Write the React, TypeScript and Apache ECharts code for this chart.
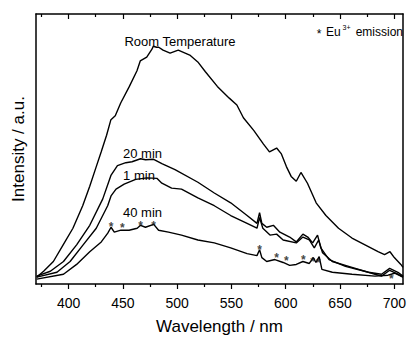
import React, { useEffect, useRef } from "react";
import * as echarts from "echarts";

// Room temperature
const rtWl = [370.7, 377, 386, 395, 404, 413, 419.5, 425.5, 430, 435, 439, 443, 448, 456, 463, 466, 472, 476.8, 478, 481, 483, 487, 493.5, 501, 511.6, 519, 526, 537, 548, 555, 561, 570.5, 579.5, 585, 591.6, 596, 600.6, 605, 609.7, 614, 620, 628, 637, 648.6, 661, 673, 685, 691, 696, 700, 706, 708];
const rtI = [7, 13, 23, 40, 57, 80, 100, 120, 135, 152, 168, 172, 185, 202, 218, 228, 232, 240, 243, 242, 242, 239, 236, 239, 234, 227, 217, 202, 190, 183, 170, 157, 143, 135, 139, 133, 120, 110, 105, 114, 103, 83, 70, 57, 47, 40, 33, 30, 33, 27, 20, 17];

// 20 min
const w20 = [370.7, 383.2, 395.3, 407.4, 419.5, 431.5, 439, 445, 452.7, 458.4, 466.3, 470.8, 478.4, 485.9, 498, 519.1, 534.2, 549.3, 564.4, 573.5, 575.9, 578, 582.5, 588.6, 594.6, 603.6, 609.7, 615.8, 620.3, 624.8, 629.3, 632.3, 639.9, 655, 676.1, 688.2, 695.7, 703.3, 708];
const i20 = [8, 13, 23, 40, 60, 87, 111, 121, 124, 125, 128, 127, 127.5, 123, 117, 104, 93, 83, 70, 62, 73, 62, 58, 60, 53, 48, 43, 51, 48, 42, 50, 37, 25, 18, 12, 10, 16, 12, 8];

// 1 min
const w1 = [370.7, 389.3, 401.4, 413.4, 425.5, 436, 439.1, 443.7, 451.2, 461.8, 472.3, 481.3, 485.9, 494.9, 504, 519.1, 534.2, 549.3, 564.4, 573.5, 575.9, 578.9, 585.5, 591.6, 597.6, 609.7, 615.8, 621.7, 626.3, 630.3, 633.9, 642.9, 661, 682.2, 688.2, 695.7, 703.3, 708];
const i1 = [7, 12, 23, 40, 57, 80, 90, 97, 102, 107, 108.5, 108, 103, 98, 97, 88, 80, 70, 62, 57, 68, 57, 50, 51, 45, 42, 48, 45, 37, 45, 32, 23, 17, 10, 8, 14, 10, 7];

// 40 min
const w40 = [370.7, 395.3, 407.4, 419.5, 430.1, 436.1, 439.1, 442.1, 448.2, 455.7, 463.2, 466.3, 470.8, 478.4, 482.9, 492, 504, 519.1, 534.2, 549.3, 564.4, 573.5, 575.9, 578, 582.5, 590, 597.6, 603.6, 609.7, 615.8, 621.7, 625.4, 627.8, 630.8, 633.3, 642.9, 661, 682.2, 694.2, 700.3, 708];
const i40 = [5, 10, 20, 33, 43, 52, 58, 53, 55, 55, 57, 60, 58, 61, 55, 53, 50, 45, 42, 37, 31, 29, 35, 27, 23, 25, 22, 19, 20, 23, 21, 27, 22, 28, 15, 12, 10, 8, 9, 11, 7];

// Eu3+ emission markers
const starWl = [439.1, 449.6, 466.3, 478.4, 575.9, 591.6, 600.6, 616.3, 624.8, 629.9, 697.3];
const starI = [63.5, 62.5, 64, 64, 40, 31.7, 29, 29.3, 27.3, 26.7, 10.7];

const majorTicks = [400, 450, 500, 550, 600, 650, 700];
const minorTicks = [375, 425, 475, 525, 575, 625, 675];

const FONT = "'Liberation Sans', Arial, sans-serif";

const zip = (xs: number[], ys: number[]) => xs.map((x, i) => [x, ys[i]]);

export default function App() {
  const ref = useRef<HTMLDivElement>(null);
  useEffect(() => {
    if (!ref.current) return;
    const chart = echarts.init(ref.current, null, { renderer: "svg" });
    const X_MIN = 370;
    const X_MAX = 708;
    const baseX = (extra: any) => ({
      type: "value",
      min: X_MIN,
      max: X_MAX,
      gridIndex: 0,
      splitLine: { show: false },
      ...extra,
    });
    const lineSeries = (name: string, xs: number[], ys: number[]) => ({
      type: "line",
      name,
      data: zip(xs, ys),
      showSymbol: false,
      symbol: "none",
      lineStyle: { color: "#000", width: 1.4 },
      xAxisIndex: 0,
      yAxisIndex: 0,
      z: 3,
    });
    chart.setOption({
      animation: false,
      backgroundColor: "#fff",
      grid: { left: 36, right: 1, top: 14, bottom: 50, containLabel: false },
      xAxis: [
        baseX({
          position: "bottom",
          axisLine: { show: true, lineStyle: { color: "#000", width: 1.5 } },
          axisTick: { show: true, inside: false, length: 5, customValues: majorTicks, lineStyle: { color: "#000", width: 1.2 } },
          axisLabel: { show: true, customValues: majorTicks, fontSize: 14, color: "#000", fontFamily: FONT, margin: 12 },
          name: "Wavelength / nm",
          nameLocation: "middle",
          nameGap: 34,
          nameTextStyle: { fontSize: 17, color: "#000", fontFamily: FONT },
        }),
        baseX({
          position: "bottom",
          axisLine: { show: false },
          axisTick: { show: true, inside: false, length: 3, customValues: minorTicks, lineStyle: { color: "#000", width: 1.2 } },
          axisLabel: { show: false },
        }),
        baseX({
          position: "top",
          axisLine: { show: true, lineStyle: { color: "#000", width: 1.5 } },
          axisTick: { show: true, inside: true, length: 5, customValues: majorTicks, lineStyle: { color: "#000", width: 1.2 } },
          axisLabel: { show: false },
        }),
        baseX({
          position: "top",
          axisLine: { show: false },
          axisTick: { show: true, inside: true, length: 3, customValues: minorTicks, lineStyle: { color: "#000", width: 1.2 } },
          axisLabel: { show: false },
        }),
      ],
      yAxis: [
        {
          type: "value",
          min: 0,
          max: 276,
          position: "left",
          axisLine: { show: true, lineStyle: { color: "#000", width: 1.5 } },
          axisTick: { show: false },
          axisLabel: { show: false },
          splitLine: { show: false },
          name: "Intensity / a.u.",
          nameLocation: "middle",
          nameRotate: 90,
          nameGap: 9,
          nameTextStyle: { fontSize: 17, color: "#000", fontFamily: FONT },
        },
        {
          type: "value",
          min: 0,
          max: 276,
          position: "right",
          axisLine: { show: true, lineStyle: { color: "#000", width: 1.5 } },
          axisTick: { show: false },
          axisLabel: { show: false },
          splitLine: { show: false },
        },
      ],
      series: [
        lineSeries("Room Temperature", rtWl, rtI),
        lineSeries("20 min", w20, i20),
        lineSeries("1 min", w1, i1),
        lineSeries("40 min", w40, i40),
        {
          type: "scatter",
          name: "Eu3+",
          data: zip(starWl, starI),
          symbolSize: 0,
          xAxisIndex: 0,
          yAxisIndex: 0,
          z: 4,
          label: {
            show: true,
            formatter: "*",
            position: "inside",
            offset: [0, 5],
            fontSize: 12,
            fontWeight: "bold",
            lineHeight: 8,
            color: "#111",
            fontFamily: FONT,
          },
        },
      ],
      graphic: [
        { type: "text", x: 180, y: 41, style: { text: "Room Temperature", fontSize: 13, fontFamily: FONT, fill: "#000", align: "center", verticalAlign: "middle" } },
        { type: "text", x: 142.5, y: 153, style: { text: "20 min", fontSize: 13, fontFamily: FONT, fill: "#000", align: "center", verticalAlign: "middle" } },
        { type: "text", x: 139, y: 175, style: { text: "1 min", fontSize: 13, fontFamily: FONT, fill: "#000", align: "center", verticalAlign: "middle" } },
        { type: "text", x: 142.5, y: 212.5, style: { text: "40 min", fontSize: 13, fontFamily: FONT, fill: "#000", align: "center", verticalAlign: "middle" } },
        { type: "text", x: 319, y: 34, style: { text: "*", fontSize: 12, fontFamily: FONT, fill: "#000", align: "center", verticalAlign: "middle" } },
        { type: "text", x: 326, y: 32, style: { text: "Eu", fontSize: 12, fontFamily: FONT, fill: "#000", align: "left", verticalAlign: "middle" } },
        { type: "text", x: 342.5, y: 27, style: { text: "3+", fontSize: 7, fontFamily: FONT, fill: "#000", align: "left", verticalAlign: "middle" } },
        { type: "text", x: 403, y: 32, style: { text: "emission", fontSize: 12, fontFamily: FONT, fill: "#000", align: "right", verticalAlign: "middle" } },
      ],
    });
    return () => chart.dispose();
  }, []);
  return (
    <div
      ref={ref}
      style={{ position: "fixed", left: 0, top: 0, width: 409, height: 340, background: "#fff" }}
    />
  );
}
